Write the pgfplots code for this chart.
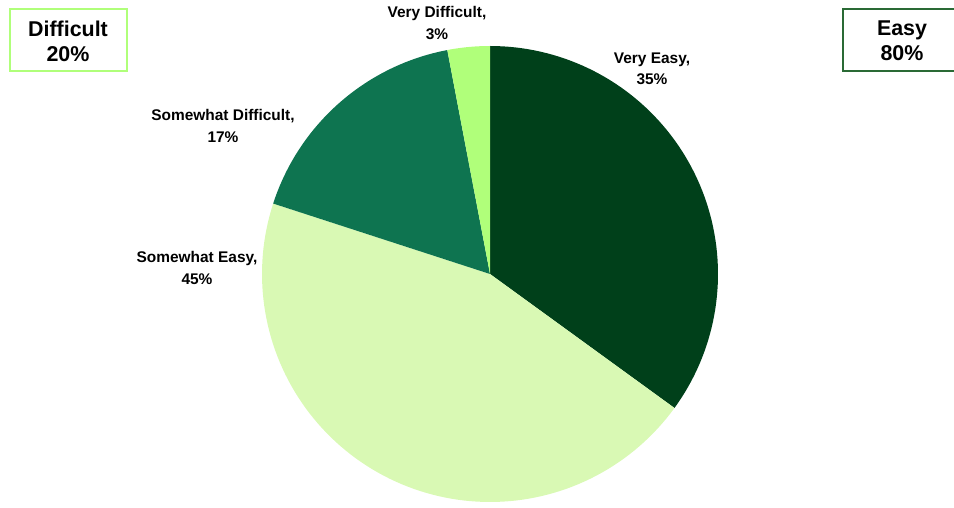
\documentclass[border=0pt]{standalone}
\usepackage{fontspec}
\setmainfont{Liberation Sans}
\usepackage{pgfplots}
\pgfplotsset{compat=1.18}
\definecolor{veasy}{HTML}{00401A}
\definecolor{seasy}{HTML}{D9F9B4}
\definecolor{sdiff}{HTML}{0E7450}
\definecolor{vdiff}{HTML}{B0FF7A}
\definecolor{easyborder}{HTML}{2A6A35}
\begin{document}
\begin{tikzpicture}
\useasboundingbox (0,0) rectangle (954bp,508bp);
\begin{axis}[
  at={(0,0)}, anchor=south west,
  scale only axis, width=954bp, height=508bp,
  xmin=0, xmax=954, ymin=0, ymax=508,
  hide axis, clip=false,
]
% shares (percent): Very Easy 35, Somewhat Easy 45, Somewhat Difficult 17, Very Difficult 3
% pie centre (490,234), radius 228, clockwise from the top
\addplot[fill=veasy, draw=none, domain={90}:{90-3.6*35}, samples=80]
  ({490+228*cos(x)},{234+228*sin(x)}) -- (axis cs:490,234) -- cycle;
\addplot[fill=seasy, draw=none, domain={90-3.6*35}:{90-3.6*(35+45)}, samples=100]
  ({490+228*cos(x)},{234+228*sin(x)}) -- (axis cs:490,234) -- cycle;
\addplot[fill=sdiff, draw=none, domain={90-3.6*(35+45)}:{90-3.6*(35+45+17)}, samples=50]
  ({490+228*cos(x)},{234+228*sin(x)}) -- (axis cs:490,234) -- cycle;
\addplot[fill=vdiff, draw=none, domain={90-3.6*(35+45+17)}:{90-3.6*100}, samples=20]
  ({490+228*cos(x)},{234+228*sin(x)}) -- (axis cs:490,234) -- cycle;

\tikzset{lab/.style={align=center, font=\fontsize{15.5}{21.5}\selectfont\bfseries, inner sep=0pt}}
\node[lab] at (axis cs:437,485) {Very Difficult,\\3\%};
\node[lab] at (axis cs:652,439) {Very Easy,\\35\%};
\node[lab] at (axis cs:223,382) {Somewhat Difficult,\\17\%};
\node[lab] at (axis cs:197,240) {Somewhat Easy,\\45\%};

\draw[vdiff, line width=1.5bp] (axis cs:10,499) rectangle (axis cs:127,437);
\node[align=center, font=\fontsize{21.5}{25}\selectfont\bfseries, inner sep=0pt] at (axis cs:68,467) {Difficult\\20\%};
\draw[easyborder, line width=1.5bp] (axis cs:843,499) rectangle (axis cs:962,437);
\node[align=center, font=\fontsize{21.5}{25}\selectfont\bfseries, inner sep=0pt] at (axis cs:902,467) {Easy\\80\%};
\end{axis}
\end{tikzpicture}
\end{document}
